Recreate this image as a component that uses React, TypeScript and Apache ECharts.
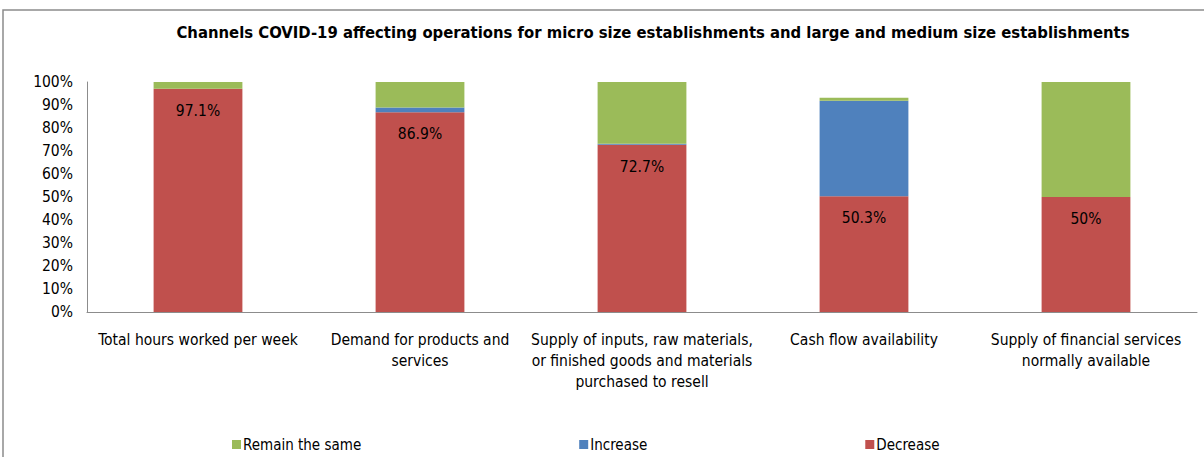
import React, { useEffect, useRef } from "react";
import * as echarts from "echarts";

const categories = [
  "Total hours worked per week",
  "Demand for products and\nservices",
  "Supply of inputs, raw materials,\nor finished goods and materials\npurchased to resell",
  "Cash flow availability",
  "Supply of financial services\nnormally available",
];
const decrease = [97.1, 86.9, 72.7, 50.3, 50];
const increase = [0, 2.0, 0.5, 41.6, 0];
const remainSame = [2.9, 11.1, 26.8, 1.3, 50];
const yTicks = [0, 10, 20, 30, 40, 50, 60, 70, 80, 90, 100];

const FONT = "'Liberation Sans Narrow', 'DejaVu Sans Condensed', sans-serif";

export default function App() {
  const ref = useRef<HTMLDivElement>(null);
  useEffect(() => {
    const chart = echarts.init(ref.current!, null, { renderer: "svg" });
    chart.setOption({
      animation: false,
      backgroundColor: "#fff",
      title: {
        text: "Channels COVID-19 affecting operations for micro size establishments and large and medium size establishments",
        left: 648,
        textAlign: "center",
        top: 19,
        textStyle: { fontFamily: FONT, fontWeight: "bold", fontSize: 16.5, color: "#000" },
      },
      graphic: [
        {
          type: "rect",
          shape: { x: 3, y: 10, width: 1220, height: 470 },
          style: { fill: "none", stroke: "#8c8c8c", lineWidth: 1.5 },
          silent: true,
        },
      ],
      legend: {
        data: ["Remain the same", "Increase", "Decrease"],
        left: 227,
        top: 432,
        itemWidth: 9,
        itemHeight: 9,
        itemGap: 218,
        icon: "rect",
        textStyle: { fontFamily: FONT, fontSize: 15, color: "#000", padding: [0, 0, 0, -3] },
      },
      grid: { left: 87, right: 7, top: 82, bottom: 145, containLabel: false },
      xAxis: {
        type: "category",
        data: categories,
        axisLine: { show: true, lineStyle: { color: "#8c8c8c" } },
        axisTick: { show: false },
        axisLabel: {
          interval: 0,
          fontFamily: FONT,
          fontSize: 15.5,
          color: "#000",
          lineHeight: 21,
          margin: 17,
        },
      },
      yAxis: {
        type: "value",
        min: 0,
        max: 100,
        interval: 10,
        splitLine: { show: false },
        axisLine: { show: true, lineStyle: { color: "#8c8c8c" } },
        axisTick: { show: false },
        axisLabel: {
          fontFamily: FONT,
          fontSize: 15.5,
          color: "#000",
          margin: 14,
          formatter: (v: number) => (yTicks.includes(v) ? v + "%" : ""),
        },
      },
      series: [
        {
          name: "Decrease",
          type: "bar",
          stack: "s",
          barWidth: "40%",
          data: decrease,
          itemStyle: { color: "#C0504D" },
          label: {
            show: true,
            position: "insideTop",
            distance: 14,
            fontFamily: FONT,
            fontSize: 15.5,
            color: "#000",
            formatter: (p: any) => p.value + "%",
          },
        },
        {
          name: "Increase",
          type: "bar",
          stack: "s",
          barWidth: "40%",
          data: increase,
          itemStyle: { color: "#4F81BD" },
        },
        {
          name: "Remain the same",
          type: "bar",
          stack: "s",
          barWidth: "40%",
          data: remainSame,
          itemStyle: { color: "#9BBB59" },
        },
      ],
    });
    return () => chart.dispose();
  }, []);
  return (
    <div
      ref={ref}
      style={{ position: "absolute", left: 0, top: 0, width: 1204, height: 457 }}
    />
  );
}
